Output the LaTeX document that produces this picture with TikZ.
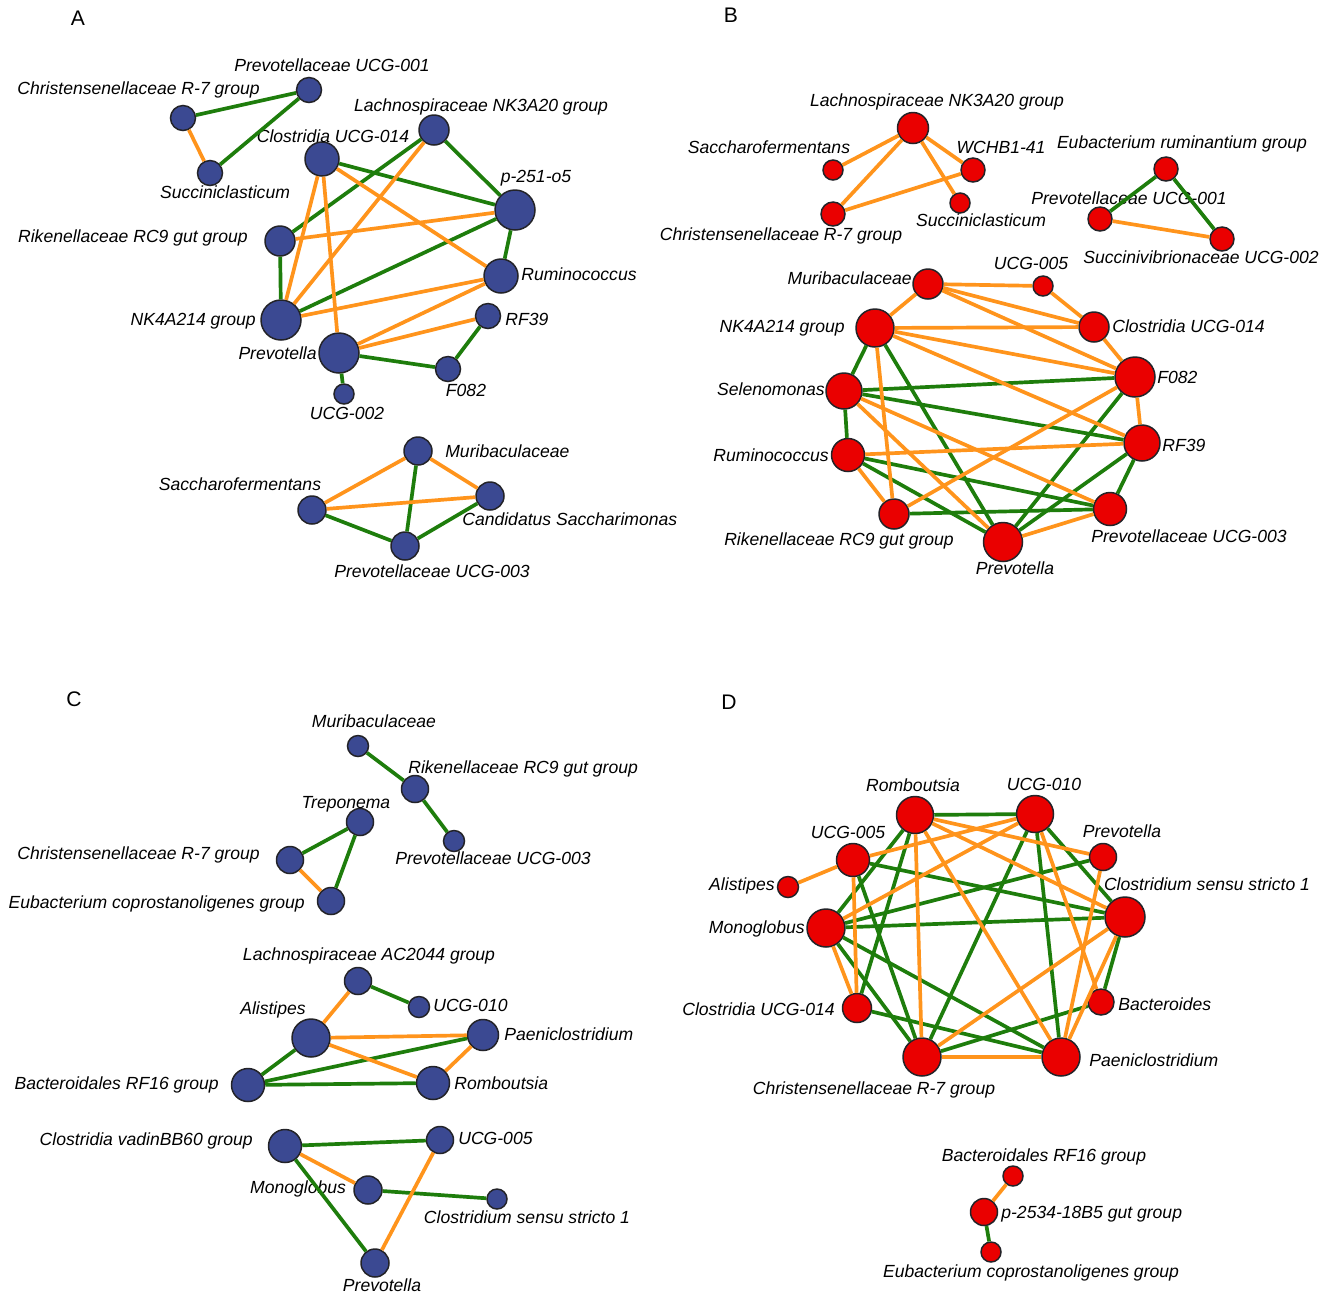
\documentclass[tikz,border=0pt]{standalone}
\usepackage{fontspec}
\setmainfont{Liberation Sans}
\definecolor{netblue}{RGB}{59,73,146}
\definecolor{netred}{RGB}{234,0,0}
\definecolor{rim}{RGB}{35,35,40}
\definecolor{posgreen}{RGB}{30,125,12}
\definecolor{negorange}{RGB}{255,148,28}
\tikzset{
  bn/.style={circle, draw=rim, line width=0.85pt, fill=netblue, inner sep=0pt, minimum size=#1*0.02cm},
  rn/.style={circle, draw=rim, line width=0.85pt, fill=netred, inner sep=0pt, minimum size=#1*0.02cm},
  lbl/.style={font=\fontsize{10}{12}\selectfont\itshape, inner sep=0pt},
  plab/.style={font=\fontsize{12}{14}\selectfont, inner sep=0pt},
  gr/.style={draw=posgreen, line width=2.1pt},
  og/.style={draw=negorange, line width=2.1pt}
}
\begin{document}
\begin{tikzpicture}[x=0.02cm, y=-0.02cm]
  \useasboundingbox[fill=white] (0,0) rectangle (1325,1296);
  % panel letters
  \draw
    (78,18) node[plab] (pA){A}
    (731,15) node[plab] (pB){B}
    (74,699) node[plab] (pC){C}
    (729,702) node[plab] (pD){D};
  % A
  \draw
    (309,90) node[bn=25] (a-pu1){}
    (183,118) node[bn=25] (a-chr){}
    (210,173) node[bn=25] (a-suc){}
    (434,130) node[bn=30] (a-lach){}
    (322,159) node[bn=34] (a-cl14){}
    (515,210) node[bn=40] (a-p251){}
    (280,241) node[bn=30] (a-rik){}
    (501,276) node[bn=34] (a-rum){}
    (281,320) node[bn=40] (a-nk){}
    (488,316) node[bn=25] (a-rf39){}
    (339,353) node[bn=40] (a-prev){}
    (448,369) node[bn=25] (a-f082){}
    (344,394) node[bn=20] (a-u002){}
    (418,451) node[bn=28] (a-mur){}
    (312,510) node[bn=28] (a-sac){}
    (490,496) node[bn=28] (a-can){}
    (405,546) node[bn=28] (a-pu3){};
  \draw
    (332,71) node[lbl, anchor=base] (ta-pu1){Prevotellaceae UCG-001}
    (260,94) node[lbl, anchor=base east] (ta-chr){Christensenellaceae R-7 group}
    (225,198) node[lbl, anchor=base] (ta-suc){Succiniclasticum}
    (481,111) node[lbl, anchor=base] (ta-lach){Lachnospiraceae NK3A20 group}
    (333,142) node[lbl, anchor=base] (ta-cl14){Clostridia UCG-014}
    (536,182) node[lbl, anchor=base] (ta-p251){p-251-o5}
    (248,242) node[lbl, anchor=base east] (ta-rik){Rikenellaceae RC9 gut group}
    (521,280) node[lbl, anchor=base west] (ta-rum){Ruminococcus}
    (256,325) node[lbl, anchor=base east] (ta-nk){NK4A214 group}
    (505,325) node[lbl, anchor=base west] (ta-rf39){RF39}
    (317,359) node[lbl, anchor=base east] (ta-prev){Prevotella}
    (466,396) node[lbl, anchor=base] (ta-f082){F082}
    (347,419) node[lbl, anchor=base] (ta-u002){UCG-002}
    (445,457) node[lbl, anchor=base west] (ta-mur){Muribaculaceae}
    (240,490) node[lbl, anchor=base] (ta-sac){Saccharofermentans}
    (462,525) node[lbl, anchor=base west] (ta-can){Candidatus Saccharimonas}
    (432,577) node[lbl, anchor=base] (ta-pu3){Prevotellaceae UCG-003};
  \begin{scope}[gr]
    \draw (a-chr) to (a-pu1);
    \draw (a-pu1) to (a-suc);
    \draw (a-cl14) to (a-p251);
    \draw (a-lach) to (a-rik);
    \draw (a-lach) to (a-p251);
    \draw (a-p251) to (a-nk);
    \draw (a-p251) to (a-rum);
    \draw (a-rik) to (a-nk);
    \draw (a-rf39) to (a-f082);
    \draw (a-prev) to (a-f082);
    \draw (a-prev) to (a-u002);
    \draw (a-mur) to (a-pu3);
    \draw (a-sac) to (a-pu3);
    \draw (a-can) to (a-pu3);
  \end{scope}
  \begin{scope}[og]
    \draw (a-chr) to (a-suc);
    \draw (a-cl14) to (a-rum);
    \draw (a-cl14) to (a-nk);
    \draw (a-cl14) to (a-prev);
    \draw (a-lach) to (a-nk);
    \draw (a-p251) to (a-rik);
    \draw (a-rum) to (a-nk);
    \draw (a-rum) to (a-prev);
    \draw (a-rf39) to (a-prev);
    \draw (a-mur) to (a-sac);
    \draw (a-mur) to (a-can);
    \draw (a-sac) to (a-can);
  \end{scope}
  % B
  \draw
    (913,128) node[rn=31] (b-lach){}
    (833,170) node[rn=20] (b-sac){}
    (973,170) node[rn=24] (b-wch){}
    (960,203) node[rn=20] (b-suc){}
    (833,214) node[rn=24] (b-chr){}
    (1166,169) node[rn=24] (b-eub){}
    (1100,219) node[rn=24] (b-pu1){}
    (1222,239) node[rn=24] (b-sv2){}
    (928,284) node[rn=30] (b-mur){}
    (1043,286) node[rn=20] (b-u005){}
    (875,328) node[rn=38] (b-nk){}
    (1094,327) node[rn=30] (b-cl14){}
    (1135,377) node[rn=40] (b-f082){}
    (844,391) node[rn=36] (b-sel){}
    (1142,443) node[rn=36] (b-rf39){}
    (848,455) node[rn=33] (b-rum){}
    (894,514) node[rn=30] (b-rik){}
    (1110,509) node[rn=33] (b-pu3){}
    (1003,542) node[rn=39] (b-prev){};
  \draw
    (937,106) node[lbl, anchor=base] (tb-lach){Lachnospiraceae NK3A20 group}
    (769,153) node[lbl, anchor=base] (tb-sac){Saccharofermentans}
    (1001,153) node[lbl, anchor=base] (tb-wch){WCHB1-41}
    (1182,148) node[lbl, anchor=base] (tb-eub){Eubacterium ruminantium group}
    (1129,204) node[lbl, anchor=base] (tb-pu1){Prevotellaceae UCG-001}
    (981,226) node[lbl, anchor=base] (tb-suc){Succiniclasticum}
    (781,240) node[lbl, anchor=base] (tb-chr){Christensenellaceae R-7 group}
    (1083,263) node[lbl, anchor=base west] (tb-sv2){Succinivibrionaceae UCG-002}
    (1031,269) node[lbl, anchor=base] (tb-u005){UCG-005}
    (912,284) node[lbl, anchor=base east] (tb-mur){Muribaculaceae}
    (845,332) node[lbl, anchor=base east] (tb-nk){NK4A214 group}
    (1112,332) node[lbl, anchor=base west] (tb-cl14){Clostridia UCG-014}
    (1157,383) node[lbl, anchor=base west] (tb-f082){F082}
    (825,395) node[lbl, anchor=base east] (tb-sel){Selenomonas}
    (1162,451) node[lbl, anchor=base west] (tb-rf39){RF39}
    (829,461) node[lbl, anchor=base east] (tb-rum){Ruminococcus}
    (839,545) node[lbl, anchor=base] (tb-rik){Rikenellaceae RC9 gut group}
    (1189,542) node[lbl, anchor=base] (tb-pu3){Prevotellaceae UCG-003}
    (1015,574) node[lbl, anchor=base] (tb-prev){Prevotella};
  \begin{scope}[gr]
    \draw (b-eub) to (b-pu1);
    \draw (b-eub) to (b-sv2);
    \draw (b-nk) to (b-sel);
    \draw (b-nk) to (b-prev);
    \draw (b-f082) to (b-sel);
    \draw (b-f082) to (b-prev);
    \draw (b-sel) to (b-rf39);
    \draw (b-sel) to (b-rum);
    \draw (b-rum) to (b-pu3);
    \draw (b-rum) to (b-prev);
    \draw (b-rf39) to (b-prev);
    \draw (b-rf39) to (b-pu3);
    \draw (b-rik) to (b-pu3);
  \end{scope}
  \begin{scope}[og]
    \draw (b-lach) to (b-sac);
    \draw (b-lach) to (b-wch);
    \draw (b-lach) to (b-suc);
    \draw (b-lach) to (b-chr);
    \draw (b-chr) to (b-wch);
    \draw (b-pu1) to (b-sv2);
    \draw (b-mur) to (b-u005);
    \draw (b-mur) to (b-cl14);
    \draw (b-mur) to (b-f082);
    \draw (b-mur) to (b-nk);
    \draw (b-u005) to (b-cl14);
    \draw (b-nk) to (b-cl14);
    \draw (b-nk) to (b-f082);
    \draw (b-nk) to (b-rf39);
    \draw (b-nk) to (b-rik);
    \draw (b-cl14) to (b-f082);
    \draw (b-f082) to (b-rik);
    \draw (b-f082) to (b-rf39);
    \draw (b-sel) to (b-prev);
    \draw (b-sel) to (b-pu3);
    \draw (b-rum) to (b-rf39);
    \draw (b-rum) to (b-rik);
    \draw (b-prev) to (b-pu3);
  \end{scope}
  % C
  \draw
    (358,746) node[bn=21] (c-mur){}
    (415,789) node[bn=27] (c-rik){}
    (454,841) node[bn=21] (c-pu3){}
    (360,822) node[bn=27] (c-tre){}
    (290,860) node[bn=27] (c-chr){}
    (331,901) node[bn=27] (c-eub){}
    (358,981) node[bn=27] (c-lac){}
    (419,1007) node[bn=21] (c-u010){}
    (311,1038) node[bn=38] (c-ali){}
    (483,1035) node[bn=31] (c-pae){}
    (248,1085) node[bn=33] (c-bac){}
    (433,1083) node[bn=33] (c-rom){}
    (285,1146) node[bn=33] (c-vad){}
    (440,1140) node[bn=27] (c-u005){}
    (368,1190) node[bn=28] (c-mon){}
    (497,1199) node[bn=20] (c-css){}
    (375,1263) node[bn=28] (c-prev){};
  \draw
    (374,727) node[lbl, anchor=base] (tc-mur){Muribaculaceae}
    (408,773) node[lbl, anchor=base west] (tc-rik){Rikenellaceae RC9 gut group}
    (346,808) node[lbl, anchor=base] (tc-tre){Treponema}
    (493,864) node[lbl, anchor=base] (tc-pu3){Prevotellaceae UCG-003}
    (260,859) node[lbl, anchor=base east] (tc-chr){Christensenellaceae R-7 group}
    (305,908) node[lbl, anchor=base east] (tc-eub){Eubacterium coprostanoligenes group}
    (369,960) node[lbl, anchor=base] (tc-lac){Lachnospiraceae AC2044 group}
    (433,1011) node[lbl, anchor=base west] (tc-u010){UCG-010}
    (273,1014) node[lbl, anchor=base] (tc-ali){Alistipes}
    (504,1040) node[lbl, anchor=base west] (tc-pae){Paeniclostridium}
    (219,1089) node[lbl, anchor=base east] (tc-bac){Bacteroidales RF16 group}
    (454,1089) node[lbl, anchor=base west] (tc-rom){Romboutsia}
    (253,1145) node[lbl, anchor=base east] (tc-vad){Clostridia vadinBB60 group}
    (458,1144) node[lbl, anchor=base west] (tc-u005){UCG-005}
    (298,1193) node[lbl, anchor=base] (tc-mon){Monoglobus}
    (527,1223) node[lbl, anchor=base] (tc-css){Clostridium sensu stricto 1}
    (382,1291) node[lbl, anchor=base] (tc-prev){Prevotella};
  \begin{scope}[gr]
    \draw (c-mur) to (c-rik);
    \draw (c-rik) to (c-pu3);
    \draw (c-tre) to (c-chr);
    \draw (c-tre) to (c-eub);
    \draw (c-lac) to (c-u010);
    \draw (c-ali) to (c-bac);
    \draw (c-bac) to (c-pae);
    \draw (c-bac) to (c-rom);
    \draw (c-vad) to (c-u005);
    \draw (c-vad) to (c-prev);
    \draw (c-mon) to (c-css);
  \end{scope}
  \begin{scope}[og]
    \draw (c-chr) to (c-eub);
    \draw (c-lac) to (c-ali);
    \draw (c-ali) to (c-pae);
    \draw (c-ali) to (c-rom);
    \draw (c-pae) to (c-rom);
    \draw (c-vad) to (c-mon);
    \draw (c-u005) to (c-prev);
  \end{scope}
  % D
  \draw
    (915,815) node[rn=37] (d-rom){}
    (1035,814) node[rn=37] (d-u010){}
    (853,860) node[rn=33] (d-u005){}
    (1103,857) node[rn=27] (d-prev){}
    (788,887) node[rn=21] (d-ali){}
    (826,928) node[rn=38] (d-mon){}
    (1125,917) node[rn=40] (d-css){}
    (857,1008) node[rn=29] (d-cl14){}
    (1101,1002) node[rn=26] (d-bcd){}
    (922,1057) node[rn=38] (d-chr){}
    (1061,1057) node[rn=38] (d-pae){}
    (1013,1176) node[rn=20] (d-brf){}
    (984,1212) node[rn=27] (d-p25){}
    (991,1252) node[rn=20] (d-eub){};
  \draw
    (913,791) node[lbl, anchor=base] (td-rom){Romboutsia}
    (1044,790) node[lbl, anchor=base] (td-u010){UCG-010}
    (848,838) node[lbl, anchor=base] (td-u005){UCG-005}
    (1122,837) node[lbl, anchor=base] (td-prev){Prevotella}
    (775,890) node[lbl, anchor=base east] (td-ali){Alistipes}
    (1207,890) node[lbl, anchor=base] (td-css){Clostridium sensu stricto 1}
    (805,933) node[lbl, anchor=base east] (td-mon){Monoglobus}
    (835,1015) node[lbl, anchor=base east] (td-cl14){Clostridia UCG-014}
    (1118,1010) node[lbl, anchor=base west] (td-bcd){Bacteroides}
    (874,1094) node[lbl, anchor=base] (td-chr){Christensenellaceae R-7 group}
    (1089,1066) node[lbl, anchor=base west] (td-pae){Paeniclostridium}
    (1044,1161) node[lbl, anchor=base] (td-brf){Bacteroidales RF16 group}
    (1001,1218) node[lbl, anchor=base west] (td-p25){p-2534-18B5 gut group}
    (1031,1277) node[lbl, anchor=base] (td-eub){Eubacterium coprostanoligenes group};
  \begin{scope}[gr]
    \draw (d-rom) to (d-u010);
    \draw (d-rom) to (d-mon);
    \draw (d-rom) to (d-cl14);
    \draw (d-u010) to (d-chr);
    \draw (d-u010) to (d-pae);
    \draw (d-u010) to (d-css);
    \draw (d-u005) to (d-css);
    \draw (d-u005) to (d-chr);
    \draw (d-prev) to (d-mon);
    \draw (d-mon) to (d-css);
    \draw (d-mon) to (d-chr);
    \draw (d-mon) to (d-pae);
    \draw (d-cl14) to (d-pae);
    \draw (d-bcd) to (d-chr);
    \draw (d-css) to (d-bcd);
    \draw (d-p25) to (d-eub);
  \end{scope}
  \begin{scope}[og]
    \draw (d-rom) to (d-prev);
    \draw (d-rom) to (d-css);
    \draw (d-rom) to (d-chr);
    \draw (d-rom) to (d-pae);
    \draw (d-u010) to (d-u005);
    \draw (d-u010) to (d-mon);
    \draw (d-u010) to (d-bcd);
    \draw (d-u005) to (d-ali);
    \draw (d-u005) to (d-cl14);
    \draw (d-prev) to (d-pae);
    \draw (d-mon) to (d-cl14);
    \draw (d-css) to (d-chr);
    \draw (d-css) to (d-pae);
    \draw (d-chr) to (d-pae);
    \draw (d-brf) to (d-p25);
  \end{scope}
\end{tikzpicture}
\end{document}
